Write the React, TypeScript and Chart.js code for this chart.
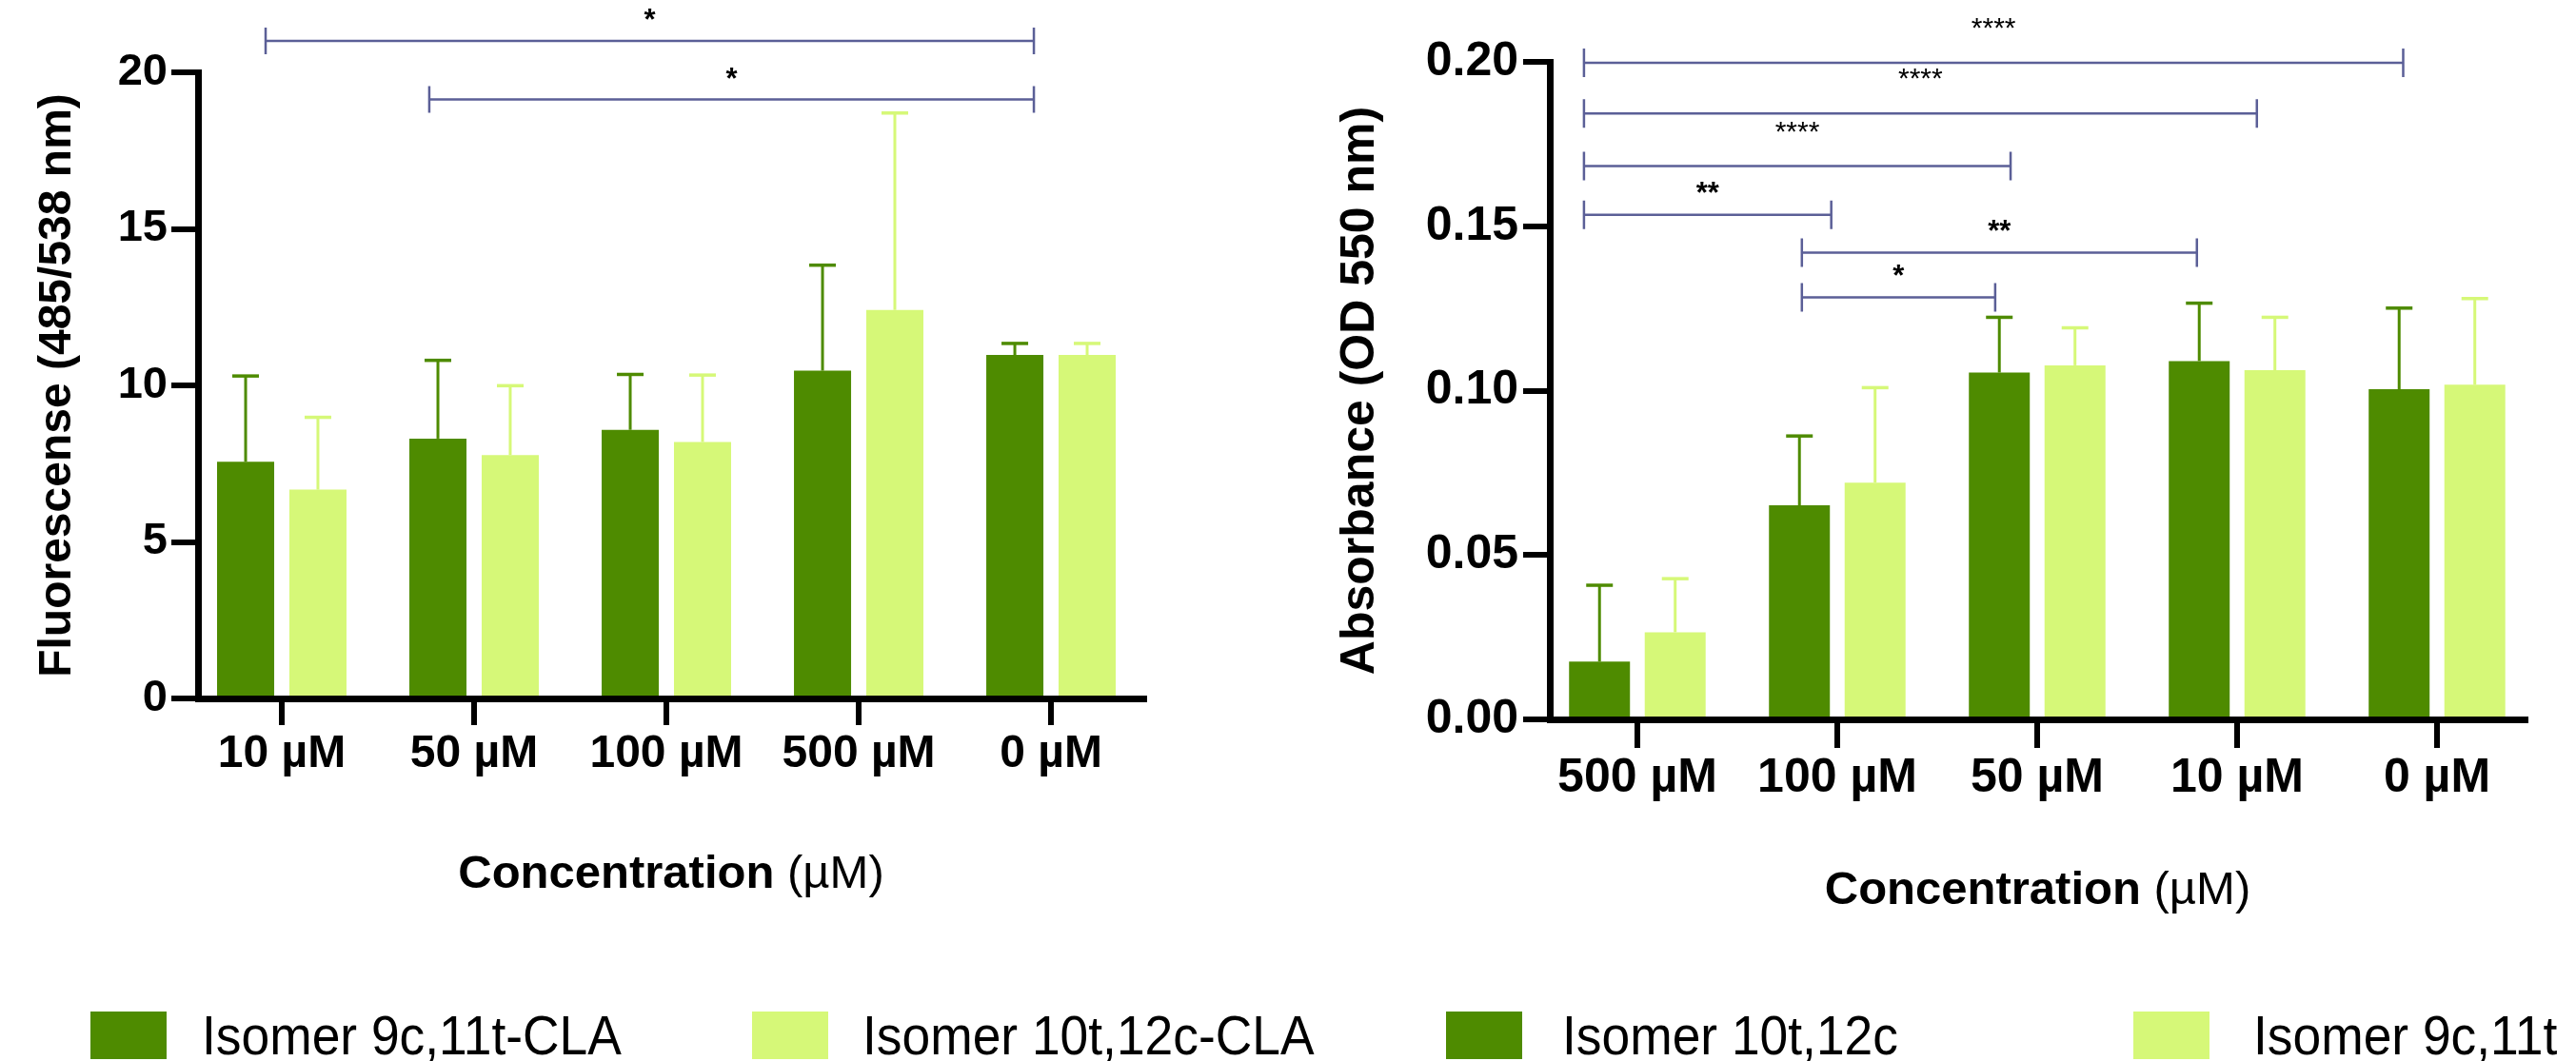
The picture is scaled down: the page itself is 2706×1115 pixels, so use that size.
import React, { useEffect, useRef } from 'react';
import { Chart, registerables } from 'chart.js';

Chart.register(...registerables);

// ---------------- data ----------------
const leftCategories = ['10 µM', '50 µM', '100 µM', '500 µM', '0 µM'];
const leftIsomer9c11tCLA = [7.56, 8.3, 8.58, 10.47, 10.97];
const leftIsomer9c11tCLA_SD = [2.74, 2.5, 1.77, 3.37, 0.37];
const leftIsomer10t12cCLA = [6.67, 7.77, 8.19, 12.41, 10.97];
const leftIsomer10t12cCLA_SD = [2.31, 2.22, 2.14, 6.29, 0.37];
const leftYTicks = [0, 5, 10, 15, 20];
const leftBrackets = [
  { from: -0.084, to: 3.911, y: 21.0, label: '*' },
  { from: 0.767, to: 3.911, y: 19.13, label: '*' },
];

const rightCategories = ['500 µM', '100 µM', '50 µM', '10 µM', '0 µM'];
const rightIsomer10t12c = [0.0176, 0.0651, 0.1055, 0.109, 0.1004];
const rightIsomer10t12c_SD = [0.0232, 0.0211, 0.0168, 0.0176, 0.0247];
const rightIsomer9c11t = [0.0265, 0.072, 0.1077, 0.1062, 0.1018];
const rightIsomer9c11t_SD = [0.0163, 0.0289, 0.0114, 0.0161, 0.0262];
const rightYTicks = [0, 0.05, 0.1, 0.15, 0.2];
const rightBrackets = [
  { from: -0.267, to: 3.831, y: 0.1997, label: '****' },
  { from: -0.267, to: 3.099, y: 0.1843, label: '****' },
  { from: -0.267, to: 1.867, y: 0.1683, label: '****' },
  { from: -0.267, to: 0.97, y: 0.1535, label: '**' },
  { from: 0.823, to: 2.799, y: 0.142, label: '**' },
  { from: 0.823, to: 1.79, y: 0.1284, label: '*' },
];

const legendLabels = ['Isomer 9c,11t-CLA', 'Isomer 10t,12c-CLA', 'Isomer 10t,12c', 'Isomer 9c,11t'];

// ---------------- styles ----------------
const FONT = "'Liberation Sans', Arial, Helvetica, sans-serif";
const DARK = '#4e8b00';
const LIGHT = '#d6f878';
const BRACKET = '#5b5f97';
const legendColors = [DARK, LIGHT, DARK, LIGHT];
const LEGEND_STYLE = {
  boxLeft: [95, 790, 1519, 2241],
  textGap: [117, 116, 122, 126],
  boxTop: 1063,
  boxW: 80,
  boxH: 50,
  textTop: 1059,
  fontSize: 58,
  scaleX: 0.92,
};

type Bracket = { from: number; to: number; y: number; label: string };

type PanelSpec = {
  categories: string[];
  series: { label: string; values: number[]; errors: number[]; color: string }[];
  yTicks: number[];
  yDecimals: number;
  yTitle: string;
  brackets: Bracket[];
  g: {
    left: number; width: number; height: number;
    padTop: number; padRight: number;
    yAxisWidth: number; xAxisHeight: number;
    xMin: number; xMax: number;
    catPct: number; barPct: number;
    yTickFont: number; xTickFont: number;
    yTitleFont: number; yTitlePad: number;
    xTitleFont: number; xTitleOffset: number;
    xTickLen: number; yTickLen: number; xTickPad: number; yTickPad: number;
    bracketHalf: number; starLift: number; quadLift: number;
  };
};

const leftSpec: PanelSpec = {
  categories: leftCategories,
  series: [
    { label: 'Isomer 9c,11t-CLA', values: leftIsomer9c11tCLA, errors: leftIsomer9c11tCLA_SD, color: DARK },
    { label: 'Isomer 10t,12c-CLA', values: leftIsomer10t12cCLA, errors: leftIsomer10t12cCLA_SD, color: LIGHT },
  ],
  yTicks: leftYTicks,
  yDecimals: 0,
  yTitle: 'Fluorescense (485/538 nm)',
  brackets: leftBrackets,
  g: {
    left: 0, width: 1380, height: 1000,
    padTop: 76, padRight: 178,
    yAxisWidth: 208, xAxisHeight: 266,
    xMin: -0.4356, xMax: 4.485,
    catPct: 0.752, barPct: 0.79,
    yTickFont: 47, xTickFont: 48,
    yTitleFont: 48, yTitlePad: 32,
    xTitleFont: 49, xTitleOffset: 199,
    xTickLen: 28, yTickLen: 28, xTickPad: 2, yTickPad: 4,
    bracketHalf: 14, starLift: 12, quadLift: 27,
  },
};

const rightSpec: PanelSpec = {
  categories: rightCategories,
  series: [
    { label: 'Isomer 10t,12c', values: rightIsomer10t12c, errors: rightIsomer10t12c_SD, color: DARK },
    { label: 'Isomer 9c,11t', values: rightIsomer9c11t, errors: rightIsomer9c11t_SD, color: LIGHT },
  ],
  yTicks: rightYTicks,
  yDecimals: 2,
  yTitle: 'Absorbance (OD 550 nm)',
  brackets: rightBrackets,
  g: {
    left: 1380, width: 1326, height: 1000,
    padTop: 65, padRight: 53,
    yAxisWidth: 248, xAxisHeight: 244,
    xMin: -0.438, xMax: 4.443,
    catPct: 0.757, barPct: 0.805,
    yTickFont: 50, xTickFont: 50,
    yTitleFont: 50, yTitlePad: 19,
    xTitleFont: 49, xTitleOffset: 194,
    xTickLen: 30, yTickLen: 28, xTickPad: 2.5, yTickPad: 5,
    bracketHalf: 15, starLift: 12.5, quadLift: 27,
  },
};

function Panel({ spec }: { spec: PanelSpec }) {
  const ref = useRef<HTMLCanvasElement>(null);

  useEffect(() => {
    const canvas = ref.current;
    if (!canvas) return;
    const g = spec.g;

    const errorBars = {
      id: 'errorBars',
      afterDatasetsDraw(chart: any) {
        const ctx = chart.ctx;
        const y = chart.scales.y;
        spec.series.forEach((s, di) => {
          const meta = chart.getDatasetMeta(di);
          meta.data.forEach((bar: any, i: number) => {
            const v = s.values[i];
            const yBar = y.getPixelForValue(v);
            const yTop = y.getPixelForValue(v + s.errors[i]);
            ctx.save();
            ctx.strokeStyle = s.color;
            ctx.lineCap = 'butt';
            ctx.lineWidth = 3;
            ctx.beginPath();
            ctx.moveTo(bar.x, yBar);
            ctx.lineTo(bar.x, yTop);
            ctx.stroke();
            ctx.lineWidth = 3.5;
            ctx.beginPath();
            ctx.moveTo(bar.x - 14, yTop);
            ctx.lineTo(bar.x + 14, yTop);
            ctx.stroke();
            ctx.restore();
          });
        });
      },
    };

    const brackets = {
      id: 'brackets',
      afterDraw(chart: any) {
        const ctx = chart.ctx;
        const xs = chart.scales.x;
        const ys = chart.scales.y;
        spec.brackets.forEach((b) => {
          const x1 = xs.getPixelForValue(b.from);
          const x2 = xs.getPixelForValue(b.to);
          const yy = ys.getPixelForValue(b.y);
          ctx.save();
          ctx.strokeStyle = BRACKET;
          ctx.lineWidth = 2.5;
          ctx.beginPath();
          ctx.moveTo(x1, yy);
          ctx.lineTo(x2, yy);
          ctx.moveTo(x1, yy - g.bracketHalf);
          ctx.lineTo(x1, yy + g.bracketHalf);
          ctx.moveTo(x2, yy - g.bracketHalf);
          ctx.lineTo(x2, yy + g.bracketHalf);
          ctx.stroke();
          const quad = b.label.length >= 4;
          ctx.fillStyle = '#000';
          ctx.textAlign = 'center';
          ctx.textBaseline = 'alphabetic';
          ctx.font = quad ? `30px ${FONT}` : `bold 31px ${FONT}`;
          ctx.fillText(b.label, (x1 + x2) / 2, yy - (quad ? g.quadLift : g.starLift));
          ctx.restore();
        });
      },
    };

    const xTitle = {
      id: 'xTitle',
      afterDraw(chart: any) {
        const ctx = chart.ctx;
        const area = chart.chartArea;
        const bold = 'Concentration';
        const reg = ' (µM)';
        ctx.save();
        const bf = `bold ${g.xTitleFont}px ${FONT}`;
        const rf = `${g.xTitleFont}px ${FONT}`;
        ctx.font = bf;
        const w1 = ctx.measureText(bold).width;
        ctx.font = rf;
        const w2 = ctx.measureText(reg).width;
        const x0 = (area.left + area.right) / 2 - (w1 + w2) / 2;
        const y = area.bottom + g.xTitleOffset;
        ctx.fillStyle = '#000';
        ctx.textAlign = 'left';
        ctx.textBaseline = 'alphabetic';
        ctx.font = bf;
        ctx.fillText(bold, x0, y);
        ctx.font = rf;
        ctx.fillText(reg, x0 + w1, y);
        ctx.restore();
      },
    };

    const chart = new Chart(canvas, {
      type: 'bar',
      data: {
        datasets: spec.series.map((s) => ({
          label: s.label,
          data: s.values.map((v, i) => ({ x: i, y: v })),
          backgroundColor: s.color,
          borderWidth: 0,
          categoryPercentage: g.catPct,
          barPercentage: g.barPct,
        })),
      },
      options: {
        responsive: false,
        animation: false,
        devicePixelRatio: 1,
        layout: { padding: { top: g.padTop, right: g.padRight, left: 0, bottom: 0 } },
        plugins: { legend: { display: false }, tooltip: { enabled: false } },
        scales: {
          x: {
            type: 'linear',
            min: g.xMin,
            max: g.xMax,
            offset: false,
            afterBuildTicks: (s: any) => {
              s.ticks = spec.categories.map((_, i) => ({ value: i }));
            },
            afterFit: (s: any) => {
              s.height = g.xAxisHeight;
            },
            ticks: {
              autoSkip: false,
              maxRotation: 0,
              minRotation: 0,
              padding: g.xTickPad,
              color: '#000',
              font: { family: FONT, size: g.xTickFont, weight: 'bold' },
              callback: (v: any) => spec.categories[v] ?? '',
            },
            grid: {
              display: true,
              offset: false,
              drawOnChartArea: false,
              drawTicks: true,
              tickLength: g.xTickLen,
              color: '#000',
              lineWidth: 6,
              tickWidth: 6,
            },
            border: { display: true, color: '#000', width: 7 },
          },
          y: {
            type: 'linear',
            min: spec.yTicks[0],
            max: spec.yTicks[spec.yTicks.length - 1],
            afterBuildTicks: (s: any) => {
              s.ticks = spec.yTicks.map((v) => ({ value: v }));
            },
            afterFit: (s: any) => {
              s.width = g.yAxisWidth;
            },
            ticks: {
              padding: g.yTickPad,
              color: '#000',
              font: { family: FONT, size: g.yTickFont, weight: 'bold' },
              callback: (v: any) => Number(v).toFixed(spec.yDecimals),
            },
            grid: {
              display: true,
              drawOnChartArea: false,
              drawTicks: true,
              tickLength: g.yTickLen,
              color: '#000',
              lineWidth: 6,
              tickWidth: 6,
            },
            border: { display: true, color: '#000', width: 7 },
            title: {
              display: true,
              text: spec.yTitle,
              color: '#000',
              font: { family: FONT, size: g.yTitleFont, weight: 'bold' },
              padding: { top: g.yTitlePad, bottom: 0 },
            },
          },
        },
      } as any,
      plugins: [errorBars, brackets, xTitle],
    } as any);

    return () => chart.destroy();
  }, [spec]);

  return (
    <canvas
      ref={ref}
      width={spec.g.width}
      height={spec.g.height}
      style={{ position: 'absolute', left: spec.g.left, top: 0, width: spec.g.width, height: spec.g.height, display: 'block' }}
    />
  );
}

function Legend() {
  const L = LEGEND_STYLE;
  return (
    <>
      {legendLabels.map((label, i) => (
        <React.Fragment key={label}>
          <div
            style={{
              position: 'absolute',
              left: L.boxLeft[i],
              top: L.boxTop,
              width: L.boxW,
              height: L.boxH,
              background: legendColors[i],
            }}
          />
          <span
            style={{
              position: 'absolute',
              left: L.boxLeft[i] + L.textGap[i],
              top: L.textTop,
              fontFamily: FONT,
              fontSize: L.fontSize,
              lineHeight: `${L.fontSize}px`,
              color: '#000',
              whiteSpace: 'nowrap',
              transform: `scaleX(${L.scaleX})`,
              transformOrigin: 'left top',
            }}
          >
            {label}
          </span>
        </React.Fragment>
      ))}
    </>
  );
}

export default function App() {
  return (
    <div
      style={{
        position: 'absolute',
        left: 0,
        top: 0,
        width: 2706,
        height: 1115,
        overflow: 'hidden',
        background: '#fff',
      }}
    >
      <Panel spec={leftSpec} />
      <Panel spec={rightSpec} />
      <Legend />
    </div>
  );
}
